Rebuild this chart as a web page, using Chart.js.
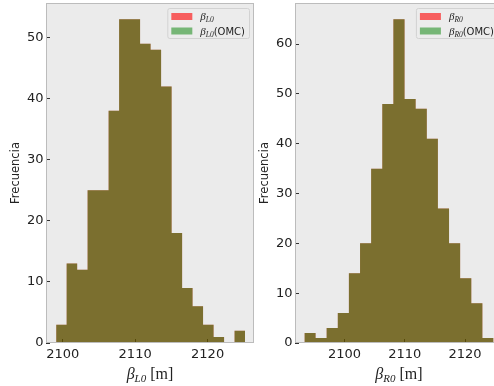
<!DOCTYPE html>
<html><head><meta charset="utf-8">
<script src="https://cdn.jsdelivr.net/npm/chart.js@4/dist/chart.umd.min.js"></script>
<style>
html,body{margin:0;padding:0;background:#fff;overflow:hidden;width:494px;height:386px;}
#wrap{position:relative;width:494px;height:386px;overflow:hidden;}
.c{position:absolute;top:0;width:260px;height:386px;}
</style></head><body>
<div id="wrap">
<div class="c" style="left:0"><canvas id="cL"></canvas></div>
<div class="c" style="left:249px"><canvas id="cR"></canvas></div>
</div>
<script>
// Left histogram (beta_L0): bin edges and counts (stepfilled histogram)
const edgesL = [2099.10, 2100.55, 2102.00, 2103.44, 2104.89, 2106.34, 2107.79, 2109.24, 2110.68, 2112.13,
                2113.58, 2115.03, 2116.48, 2117.92, 2119.37, 2120.82, 2122.27, 2123.72, 2125.16];
const countsL = [3, 13, 12, 25, 25, 38, 53, 53, 49, 48, 42, 18, 9, 6, 3, 1, 0, 2];
// Right histogram (beta_R0)
const edgesR = [2093.36, 2095.21, 2097.05, 2098.90, 2100.74, 2102.59, 2104.43, 2106.28, 2108.12, 2109.97,
                2111.81, 2113.66, 2115.50, 2117.35, 2119.19, 2121.04, 2122.88, 2124.73];
const countsR = [2, 1, 3, 6, 14, 20, 35, 48, 65, 49, 47, 41, 27, 20, 13, 8, 1];
// Axis ticks / ranges
const xTicks = [2100, 2110, 2120];
const yTicksL = [0, 10, 20, 30, 40, 50];
const yTicksR = [0, 10, 20, 30, 40, 50, 60];
const xRangeL = [2097.7, 2126.4];
const xRangeR = [2091.8, 2126.3];
const yMaxL = 55.65;
const yMaxR = 68.25;
// Text
const yTitle = 'Frecuencia';
const symbol = 'β';
const subL = 'L0';
const subR = 'R0';
const unit = ' [m]';
const omc = '(OMC)';

const BG = '#ebebeb', FRAME = '#bcbcbc', TXT = '#222';
const RED = 'rgba(255,0,0,0.6)', GREEN = 'rgba(0,128,0,0.5)';

function drawRuns(ctx, runs, x, y, align) {
  let w = 0;
  runs.forEach(r => { ctx.font = r.font; r.w = ctx.measureText(r.t).width; w += r.w; });
  let cx = align === 'center' ? x - w / 2 : x;
  ctx.textAlign = 'left';
  ctx.textBaseline = 'alphabetic';
  runs.forEach(r => { ctx.font = r.font; ctx.fillText(r.t, cx, y + (r.dy || 0)); cx += r.w; });
  return w;
}

function zeroPad(s) { s.paddingTop = 0; s.paddingBottom = 0; s.paddingLeft = 0; s.paddingRight = 0; }

// step points: each bin edge carries the count of the bin that starts there; last edge repeats last count
function stepPoints(edges, counts) {
  return edges.map((e, i) => ({ x: e, y: counts[Math.min(i, counts.length - 1)] }));
}

function makeChart(id, edges, counts, xr, ymax, yTicks, sub) {
  const pts = stepPoints(edges, counts);
  const deco = {
    id: 'deco',
    beforeDraw(chart) {
      const { ctx, chartArea: a } = chart;
      ctx.save();
      ctx.fillStyle = BG;
      ctx.fillRect(a.left, a.top, a.right - a.left, a.bottom - a.top);
      ctx.restore();
    },
    afterDraw(chart) {
      const { ctx, chartArea: a } = chart;
      ctx.save();
      // frame
      ctx.strokeStyle = FRAME;
      ctx.lineWidth = 1;
      ctx.strokeRect(a.left + 0.5, a.top + 0.5, a.right - a.left - 1, a.bottom - a.top - 1);
      // legend
      const serifI = 'italic 11px "Liberation Serif"';
      const subF = 'italic 7.5px "Liberation Serif"';
      const sansF = '10px "DejaVu Sans"';
      const row1 = [{ t: symbol, font: serifI }, { t: sub, font: subF, dy: 2 }];
      const row2 = [{ t: symbol, font: serifI }, { t: sub, font: subF, dy: 2 }, { t: omc, font: sansF }];
      let w2 = 0;
      row2.forEach(r => { ctx.font = r.font; w2 += ctx.measureText(r.t).width; });
      const boxW = 4 + 21 + 8 + w2 + 4;
      const bx = a.right - 5 - boxW, by = a.top + 5, bh = 30;
      ctx.fillStyle = 'rgba(236,236,236,0.9)';
      ctx.strokeStyle = '#d2d2d2';
      ctx.beginPath();
      ctx.roundRect(bx + 0.5, by + 0.5, boxW, bh, 2);
      ctx.fill(); ctx.stroke();
      const px = bx + 4;
      ctx.fillStyle = RED;  ctx.fillRect(px, by + 5, 21, 7);
      ctx.fillStyle = GREEN; ctx.fillRect(px, by + 19.5, 21, 7);
      ctx.fillStyle = TXT;
      drawRuns(ctx, row1, px + 29, by + 12, 'left');
      drawRuns(ctx, row2, px + 29, by + 27, 'left');
      // x title
      ctx.fillStyle = TXT;
      drawRuns(ctx, [
        { t: symbol, font: 'italic 16px "Liberation Serif"' },
        { t: sub, font: 'italic 11px "Liberation Serif"', dy: 3 },
        { t: unit, font: '16px "Liberation Serif"' }
      ], (a.left + a.right) / 2, 379, 'center');
      // y title
      ctx.translate(16, (a.top + a.bottom) / 2);
      ctx.rotate(-Math.PI / 2);
      ctx.font = '11.5px "DejaVu Sans"';
      ctx.textAlign = 'center';
      ctx.textBaseline = 'middle';
      ctx.fillText(yTitle, 0, 0);
      ctx.restore();
    }
  };
  const ds = (label, color, order) => ({
    label: label, data: pts, backgroundColor: color, borderColor: color, borderWidth: 0,
    fill: 'origin', stepped: 'before', pointRadius: 0, tension: 0, order: order
  });
  return new Chart(document.getElementById(id), {
    type: 'line',
    data: { datasets: [ds(symbol + sub, RED, 2), ds(symbol + sub + omc, GREEN, 1)] },
    options: {
      responsive: true,
      maintainAspectRatio: false,
      animation: false,
      devicePixelRatio: 1,
      layout: { padding: { top: 3, right: 6, left: 0, bottom: 0 } },
      plugins: { legend: { display: false }, tooltip: { enabled: false }, title: { display: false } },
      scales: {
        x: {
          type: 'linear', min: xr[0], max: xr[1], offset: false, z: 1,
          afterBuildTicks: s => { s.ticks = xTicks.map(v => ({ value: v })); },
          afterFit: s => { s.height = 43; zeroPad(s); },
          grid: { display: true, drawOnChartArea: false, drawTicks: true, tickLength: -4, color: '#333', offset: false },
          border: { display: false },
          ticks: { color: TXT, font: { family: 'DejaVu Sans', size: 13 }, padding: 8, maxRotation: 0, autoSkip: false,
                   callback: v => String(v) }
        },
        y: {
          type: 'linear', min: 0, max: ymax, z: 1,
          afterBuildTicks: s => { s.ticks = yTicks.map(v => ({ value: v })); },
          afterFit: s => { s.width = 46; zeroPad(s); },
          grid: { display: true, drawOnChartArea: false, drawTicks: true, tickLength: -4, color: '#333' },
          border: { display: false },
          ticks: { color: TXT, font: { family: 'DejaVu Sans', size: 13 }, padding: 6.5, autoSkip: false,
                   callback: v => String(v) }
        }
      }
    },
    plugins: [deco]
  });
}

makeChart('cL', edgesL, countsL, xRangeL, yMaxL, yTicksL, subL);
makeChart('cR', edgesR, countsR, xRangeR, yMaxR, yTicksR, subR);
</script>
</body></html>
